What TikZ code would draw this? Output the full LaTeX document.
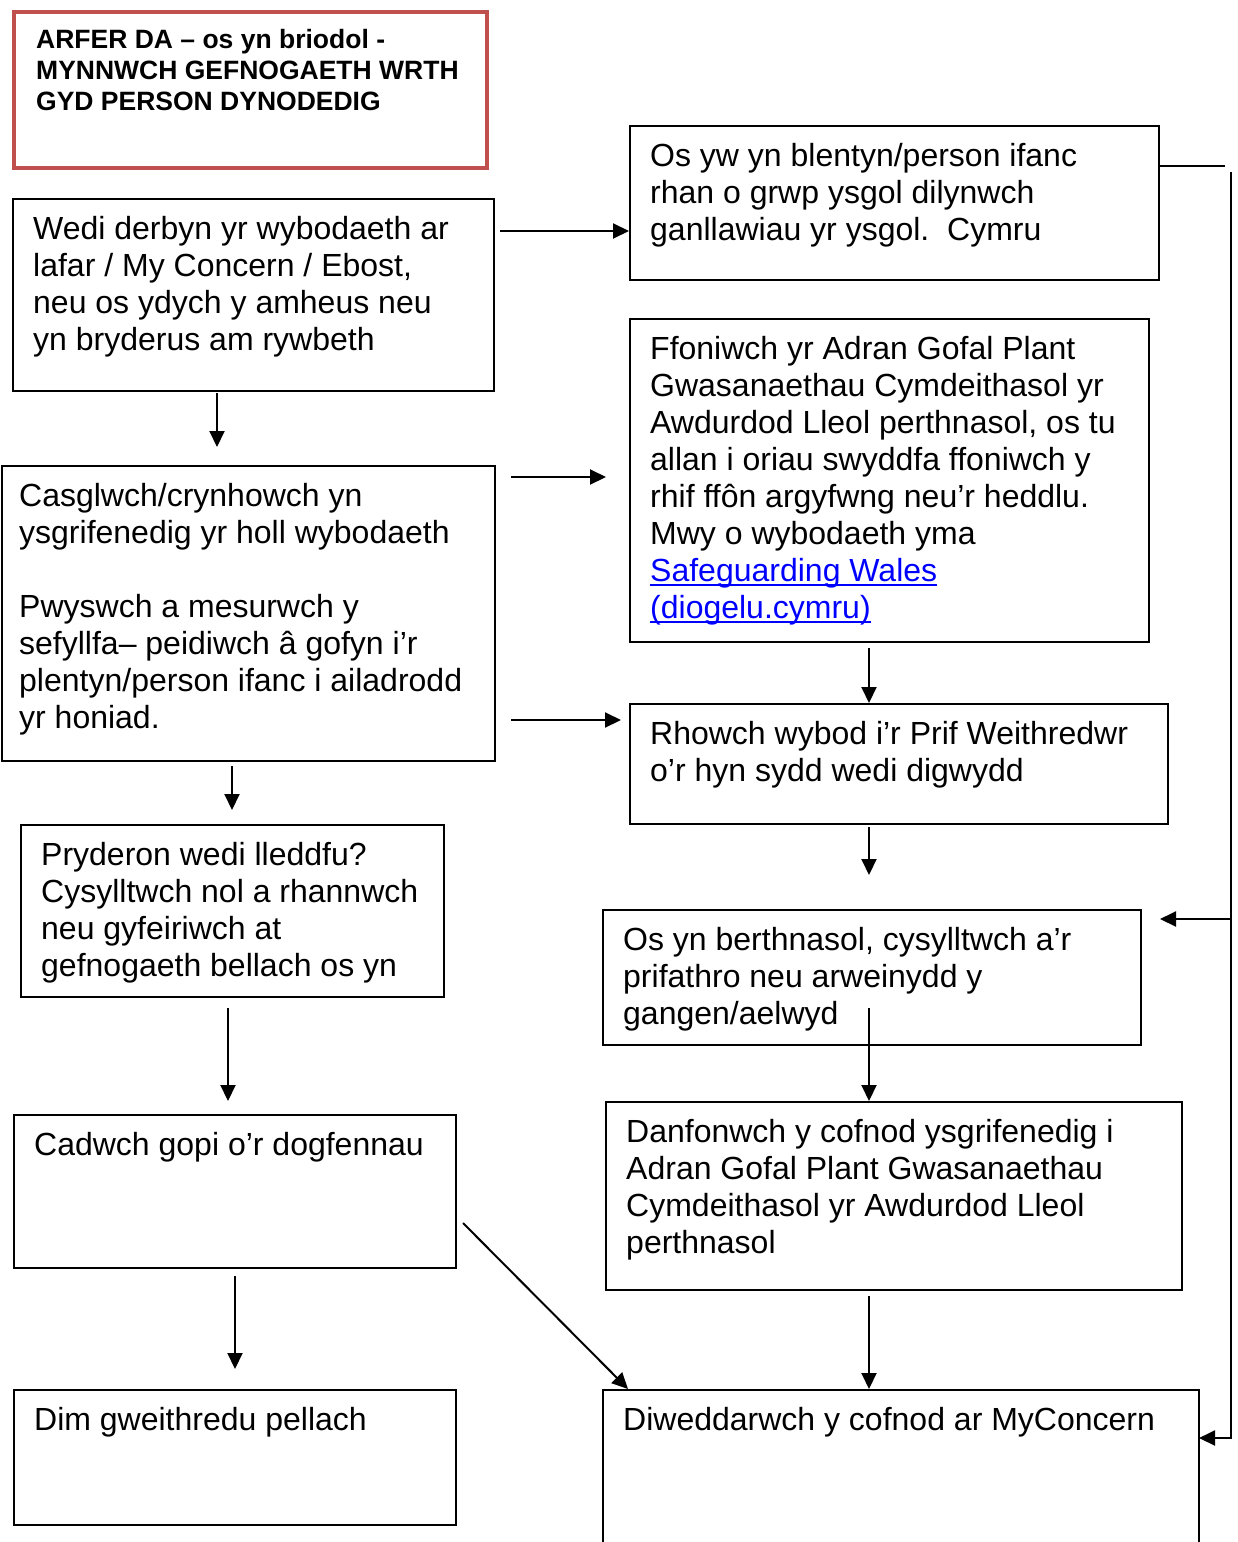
\documentclass[tikz,border=0pt]{standalone}
\usepackage{fontspec}
\setmainfont{Liberation Sans}
\usetikzlibrary{arrows.meta,calc}
\definecolor{hdrred}{RGB}{192,80,77}
\definecolor{linkblue}{RGB}{0,0,255}
\newcommand\myul[1]{\setbox0\hbox{#1}\rlap{\rule[-5pt]{\wd0}{2pt}}\box0}
\begin{document}
\begin{tikzpicture}[x=1pt,y=-1pt,
  box/.style={draw,line width=2pt,rectangle,anchor=north west,inner sep=0pt},
  txt/.style={anchor=base west,inner sep=0pt,font=\fontsize{32}{37}\selectfont},
  arr/.style={line width=2pt,-{Triangle[length=16pt,width=15pt]}},
  ln/.style={line width=2pt}]
\useasboundingbox (0,0) rectangle (1237,1542);
\clip (0,0) rectangle (1237,1542);
% header
\node[box,draw=hdrred,line width=4pt,minimum width=473pt,minimum height=156pt] (hdr) at (12,10) {};
\node[anchor=base west,inner sep=0pt,font=\fontsize{26.5}{31}\selectfont\bfseries] (hdrt) at (36,48)
  {\parbox[t]{460pt}{ARFER DA – os yn briodol -\\MYNNWCH GEFNOGAETH WRTH\\GYD PERSON DYNODEDIG}};
% boxes
\node[box,minimum width=529pt,minimum height=154pt] (A) at (629,125) {};
\node[box,minimum width=481pt,minimum height=192pt] (B) at (12,198) {};
\node[box,minimum width=493pt,minimum height=295pt] (C) at (1,465) {};
\node[box,minimum width=519pt,minimum height=323pt] (D) at (629,318) {};
\node[box,minimum width=538pt,minimum height=120pt] (E) at (629,703) {};
\node[box,minimum width=423pt,minimum height=172pt] (F) at (20,824) {};
\node[box,minimum width=538pt,minimum height=135pt] (G) at (602,909) {};
\node[box,minimum width=576pt,minimum height=188pt] (H) at (605,1101) {};
\node[box,minimum width=442pt,minimum height=153pt] (I) at (13,1114) {};
\node[box,minimum width=442pt,minimum height=135pt] (J) at (13,1389) {};
\node[box,minimum width=596pt,minimum height=220pt] (K) at (602,1389) {};
% texts
\node[txt] (At) at (650,166) {\parbox[t]{500pt}{Os yw yn blentyn/person ifanc\\rhan o grwp ysgol dilynwch\\ganllawiau yr ysgol.\ \ Cymru}};
\node[txt] (Bt) at (33,239) {\parbox[t]{460pt}{Wedi derbyn yr wybodaeth ar\\lafar / My Concern / Ebost,\\neu os ydych y amheus neu\\yn bryderus am rywbeth}};
\node[txt] (Ct) at (19,506) {\parbox[t]{470pt}{Casglwch/crynhowch yn\\ysgrifenedig yr holl wybodaeth\\[37pt]Pwyswch a mesurwch y\\sefyllfa– peidiwch â gofyn i’r\\plentyn/person ifanc i ailadrodd\\yr honiad.}};
\node[txt] (Dt) at (650,359) {\parbox[t]{490pt}{Ffoniwch yr Adran Gofal Plant\\Gwasanaethau Cymdeithasol yr\\Awdurdod Lleol perthnasol, os tu\\allan i oriau swyddfa ffoniwch y\\rhif ffôn argyfwng neu’r heddlu.\\Mwy o wybodaeth yma\\\textcolor{linkblue}{\myul{Safeguarding Wales}}\\\textcolor{linkblue}{\myul{(diogelu.cymru)}}}};
\node[txt] (Et) at (650,744) {\parbox[t]{510pt}{Rhowch wybod i’r Prif Weithredwr\\o’r hyn sydd wedi digwydd}};
\node[txt] (Ft) at (41,865) {\parbox[t]{400pt}{Pryderon wedi lleddfu?\\Cysylltwch nol a rhannwch\\neu gyfeiriwch at\\gefnogaeth bellach os yn}};
\node[txt] (Gt) at (623,950) {\parbox[t]{510pt}{Os yn berthnasol, cysylltwch a’r\\prifathro neu arweinydd y\\gangen/aelwyd}};
\node[txt] (Ht) at (626,1142) {\parbox[t]{550pt}{Danfonwch y cofnod ysgrifenedig i\\Adran Gofal Plant Gwasanaethau\\Cymdeithasol yr Awdurdod Lleol\\perthnasol}};
\node[txt] (It) at (34,1155) {Cadwch gopi o’r dogfennau};
\node[txt] (Jt) at (34,1430) {Dim gweithredu pellach};
\node[txt] (Kt) at (623,1430) {Diweddarwch y cofnod ar MyConcern};
% connectors
\draw[arr,shorten <=5pt] (B.east |- 0,231) -- (A.west |- 0,231);
\draw[arr,shorten <=1pt,shorten >=18pt] (B.south -| 217,0) -- (C.north -| 217,0);
\draw[arr,shorten <=15pt,shorten >=23pt] (C.east |- 0,477) -- (D.west |- 0,477);
\draw[arr,shorten <=15pt,shorten >=8pt] (C.east |- 0,720) -- (E.west |- 0,720);
\draw[arr,shorten <=5pt] (D.south -| 869,0) -- (E.north -| 869,0);
\draw[arr,shorten <=2pt,shorten >=34pt] (E.south -| 869,0) -- (G.north -| 869,0);
\draw[arr,shorten <=4pt,shorten >=14pt] (C.south -| 232,0) -- (F.north -| 232,0);
\draw[arr,shorten <=10pt,shorten >=13pt] (F.south -| 228,0) -- (I.north -| 228,0);
\draw[arr,shorten <=-38pt] (G.south -| 869,0) -- (H.north -| 869,0);
\draw[arr,shorten <=5pt] (H.south -| 869,0) -- (K.north -| 869,0);
\draw[arr,shorten <=7pt,shorten >=20pt] (I.south -| 235,0) -- (J.north -| 235,0);
\draw[arr] ($(I.south east)+(6,-46)$) -- ($(K.north west)+(26,0)$);
\coordinate (ra) at (1225,166);
\coordinate (rt) at (1231,172);
\coordinate (rg) at (1231,919);
\coordinate (rb) at (1231,1438);
\draw[ln] (A.east |- ra) -- (ra);
\draw[arr,shorten >=-1pt] (rt) -- (rb) -- (K.east |- rb);
\draw[arr,shorten >=18pt] (rg) -- (G.east |- rg);
\end{tikzpicture}
\end{document}
